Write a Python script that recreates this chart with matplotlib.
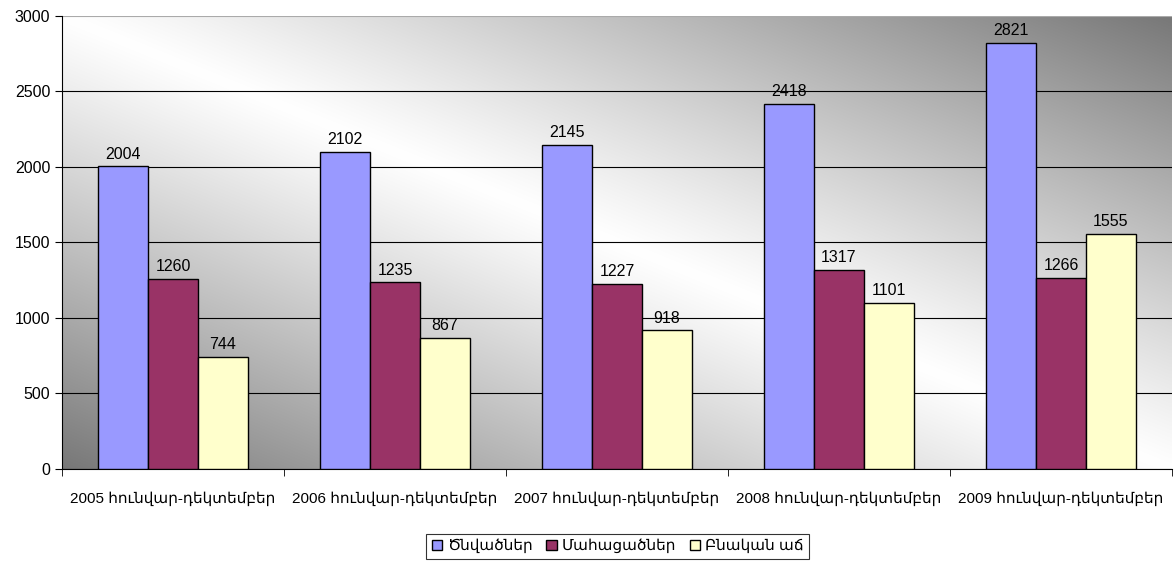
import numpy as np
import matplotlib
matplotlib.use("Agg")
import matplotlib.pyplot as plt
from matplotlib.patches import Patch

plt.rcParams['font.family'] = ['Liberation Sans', 'DejaVu Sans']

categories = ["2005 հունվար-դեկտեմբեր", "2006 հունվար-դեկտեմբեր",
              "2007 հունվար-դեկտեմբեր", "2008 հունվար-դեկտեմբեր",
              "2009 հունվար-դեկտեմբեր"]
births = [2004, 2102, 2145, 2418, 2821]
deaths = [1260, 1235, 1227, 1317, 1266]
growth = [744, 867, 918, 1101, 1555]
series_names = ["Ծնվածներ", "Մահացածներ", "Բնական աճ"]
colors = ["#9999FF", "#993366", "#FFFFCC"]

fig = plt.figure(figsize=(11.75, 5.63), dpi=100)
ax = fig.add_axes([0.0528, 0.167, 0.9446, 0.8046])

# diagonal gray gradient in the plot area
n = 300
xx, yy = np.meshgrid(np.linspace(0, 1, n), np.linspace(0, 1, n))
u = xx + yy - 1
g = 1 - 0.53 * np.abs(u) ** 1.1
ax.imshow(np.dstack([g, g, g]), extent=[0, 1, 0, 1], transform=ax.transAxes,
          origin='lower', aspect='auto', zorder=0, interpolation='bilinear')

x = np.arange(len(categories))
w = 0.225
for i, (vals, c) in enumerate(zip([births, deaths, growth], colors)):
    bars = ax.bar(x + (i - 1) * w, vals, w, color=c, edgecolor='black',
                  linewidth=1, zorder=3, label=series_names[i])
    ax.bar_label(bars, padding=3.5, fontsize=11.5)

ax.set_xlim(-0.5, len(categories) - 0.5)
ax.set_ylim(0, 3000)
ax.set_yticks(np.arange(0, 3001, 500))
ax.yaxis.grid(True, color='black', linewidth=0.8, zorder=1)
ax.get_ygridlines()[-1].set_color('#aaaaaa')
ax.set_axisbelow(True)
ax.set_xticks(x)
ax.set_xticklabels(categories, fontsize=11)
ax.set_xticks(np.arange(-0.5, len(categories)), minor=True)
ax.tick_params(axis='x', which='major', length=0, pad=16)
ax.tick_params(axis='x', which='minor', length=5, direction='out')
ax.tick_params(axis='y', length=5, direction='out', labelsize=11.5)
for s in ['top', 'right']:
    ax.spines[s].set_visible(False)
ax.spines['left'].set_linewidth(0.8)
ax.spines['bottom'].set_linewidth(0.8)

handles = [Patch(facecolor=c, edgecolor='black', label=n_) for c, n_ in zip(colors, series_names)]
leg = fig.legend(handles=handles, loc='center', bbox_to_anchor=(0.5255, 0.03), ncol=3,
                 fontsize=11, frameon=True, fancybox=False, handlelength=0.7,
                 handleheight=0.7, handletextpad=0.3, columnspacing=0.9,
                 borderpad=0.35)
leg.get_frame().set_edgecolor('black')
leg.get_frame().set_linewidth(0.8)

fig.savefig("out.png", dpi=100)
